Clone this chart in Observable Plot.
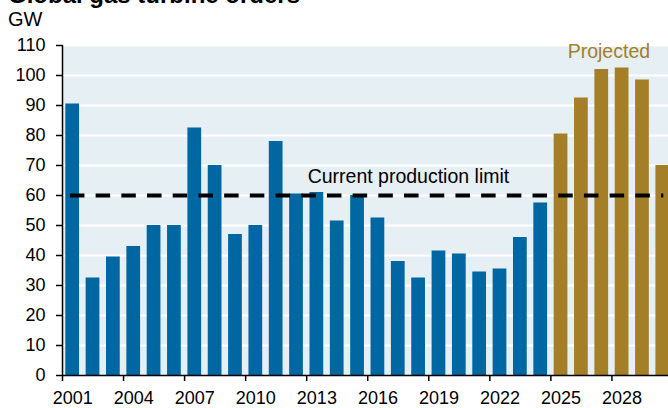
<!DOCTYPE html>
<html>
<head>
<meta charset="utf-8">
<script src="https://cdn.jsdelivr.net/npm/d3@7"></script>
<script src="https://cdn.jsdelivr.net/npm/@observablehq/plot@0.6"></script>
<style>
  html, body { margin: 0; padding: 0; background: #ffffff; }
  body { width: 668px; height: 408px; overflow: hidden; position: relative; font-family: "Liberation Sans", Arial, sans-serif; }
  #title { position: absolute; left: 8px; top: -17px; font-weight: bold; font-size: 24px; line-height: 24px; color: #000; white-space: nowrap; }
  #unit { position: absolute; left: 8px; top: 9px; font-size: 20px; line-height: 20px; color: #000; }
  #chart { position: absolute; left: 0; top: 30px; }
</style>
</head>
<body>
<div id="title">Global gas turbine orders</div>
<div id="unit">GW</div>
<div id="chart"></div>
<script>
// Data
const years = [2001, 2002, 2003, 2004, 2005, 2006, 2007, 2008, 2009, 2010,
               2011, 2012, 2013, 2014, 2015, 2016, 2017, 2018, 2019, 2020,
               2021, 2022, 2023, 2024, 2025, 2026, 2027, 2028, 2029, 2030];
const orders = [90.5, 32.5, 39.5, 43, 50, 50, 82.5, 70, 47, 50,
                78, 60.5, 61, 51.5, 60, 52.5, 38, 32.5, 41.5, 40.5,
                34.5, 35.5, 46, 57.5, 80.5, 92.5, 102, 102.5, 98.5, 70];
const firstProjectedYear = 2025;
const seriesNames = ["Actual", "Projected"];
const seriesColors = ["#0067a3", "#a47f27"];
const productionLimit = 60;
const limitLabel = "Current production limit";
const projectedLabel = "Projected";
const yTicks = [0, 10, 20, 30, 40, 50, 60, 70, 80, 90, 100, 110];
const xTicks = [2001, 2004, 2007, 2010, 2013, 2016, 2019, 2022, 2025, 2028];

// Annotation anchors (data units)
const limitLabelPos = {x: 2018.0, y: 64.3};
const projectedLabelPos = {x: 2027.85, y: 106};
const limitSpan = {x1: 2001.39, x2: 2030.55};

const data = years.map((year, i) => ({
  year,
  value: orders[i],
  series: year >= firstProjectedYear ? seriesNames[1] : seriesNames[0]
}));

const chart = Plot.plot({
  width: 668,
  height: 378,
  marginTop: 15,
  marginBottom: 33,
  marginLeft: 62,
  marginRight: 0,
  style: {fontFamily: "'Liberation Sans', Arial, sans-serif", fontSize: "18px", color: "#000", background: "transparent"},
  x: {domain: [2001, 2030.78], label: null},
  y: {domain: [0, 110], label: null},
  color: {domain: seriesNames, range: seriesColors},
  marks: [
    Plot.frame({fill: "#e6eff3", stroke: null}),
    Plot.ruleY(yTicks.filter(d => d > 0), {stroke: "#ffffff", strokeWidth: 2}),
    Plot.rectY(data, {x1: "year", x2: d => d.year + 1, y: "value", fill: "series", insetLeft: 3.3, insetRight: 3.3}),
    Plot.ruleY([productionLimit], {x1: limitSpan.x1, x2: limitSpan.x2, stroke: "#000", strokeWidth: 4, strokeDasharray: "14.5,11.2"}),
    Plot.text([limitLabel], {x: limitLabelPos.x, y: limitLabelPos.y, text: d => d, textAnchor: "middle", lineAnchor: "bottom", fontSize: 19.5, fill: "#000"}),
    Plot.text([projectedLabel], {x: projectedLabelPos.x, y: projectedLabelPos.y, text: d => d, textAnchor: "middle", lineAnchor: "bottom", fontSize: 19.5, fill: seriesColors[1]}),
    Plot.axisY({ticks: yTicks, tickSize: 6, tickPadding: 11, tickFormat: d => String(d), stroke: "#000", strokeWidth: 1.5, label: null}),
    // tick marks at year boundaries
    Plot.axisX({ticks: xTicks, tickSize: 6, tickFormat: () => "", stroke: "#000", strokeWidth: 1.5, label: null}),
    // labels centred under each year's bar
    Plot.axisX({ticks: xTicks.map(d => d + 0.5), tickSize: 0, tickPadding: 16, tickFormat: d => String(d - 0.5), label: null}),
    Plot.ruleX([2001], {y1: 0, y2: 110, stroke: "#000", strokeWidth: 1.5}),
    Plot.ruleY([0], {stroke: "#000", strokeWidth: 1.5})
  ]
});
document.getElementById("chart").appendChild(chart);
</script>
</body>
</html>
